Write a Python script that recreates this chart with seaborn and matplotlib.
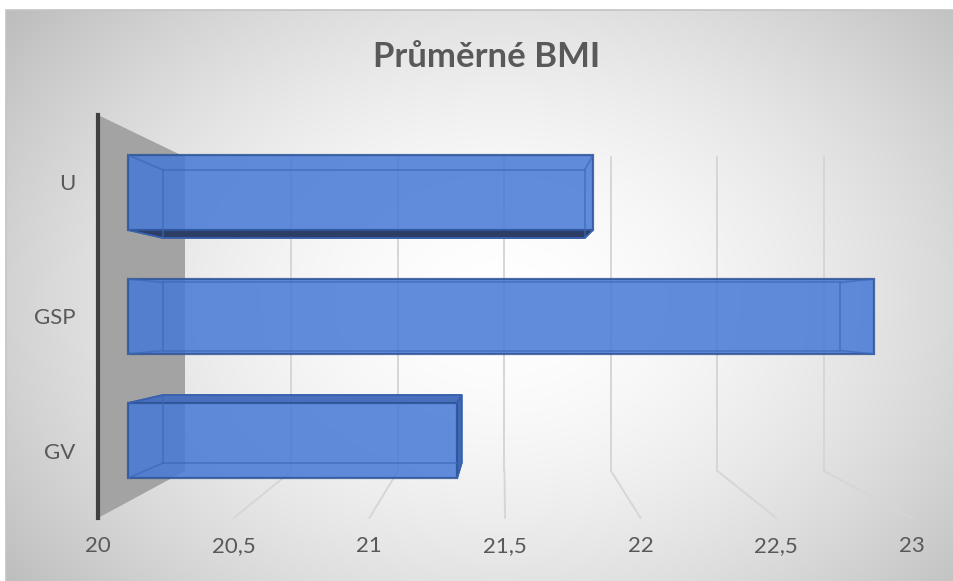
import numpy as np
import pandas as pd
import matplotlib
matplotlib.use("Agg")
import matplotlib.pyplot as plt
import seaborn as sns
from matplotlib.patches import Polygon

# ---------------- data ----------------
categories = ["U", "GSP", "GV"]
bmi_values = [21.85, 22.97, 21.31]
tick_values = [20, 20.5, 21, 21.5, 22, 22.5, 23]
tick_labels = ["20", "20,5", "21", "21,5", "22", "22,5", "23"]
title_text = "Průměrné BMI"

# ---------------- layout constants (pixels) ----------------
W, H = 954, 581
VP_X, VP_Y = 505, 316.5            # vanishing point
FRONT_L, FRONT_R, FRONT_T, FRONT_B = 98, 912, 115, 518
BACK_L, BACK_R, BACK_T, BACK_B = 185, 824, 157, 471
BAR_L, BAR_R, BAR_T, BAR_B = 128, 882, 130.5, 502.5
DEPTH_K = 0.907                    # scale of bar back face towards VP

sns.set_theme(style="white")
plt.rcParams['font.family'] = ['Lato', 'DejaVu Sans']

fig = plt.figure(figsize=(W / 100, H / 100), dpi=100)
fig.patch.set_facecolor('white')


def rect(l, t, r, b):
    return [l / W, 1 - b / H, (r - l) / W, (b - t) / H]


# ---------------- background axes ----------------
ax_bg = fig.add_axes([0, 0, 1, 1], zorder=0)
yy, xx = np.mgrid[10:H, 6:W]
rr = np.sqrt(((xx - 500) / 560.0) ** 2 + ((yy - 300) / 420.0) ** 2)
val = np.clip(255 - 55 * rr ** 1.7, 0, 255) / 255.0
img = np.dstack([val, val, val])
ax_bg.imshow(img, extent=(6, W, H, 10), origin='upper', aspect='auto',
             interpolation='bilinear', zorder=0)
ax_bg.set_xlim(0, W)
ax_bg.set_ylim(H, 0)
ax_bg.axis('off')
ax_bg.plot([6, 6, W], [H, 10, 10], color='#c4c4c4', lw=1.2, zorder=1)

v0, v1 = tick_values[0], tick_values[-1]


def x_front(v):
    return FRONT_L + (v - v0) / (v1 - v0) * (FRONT_R - FRONT_L)


def x_back(v):
    return BACK_L + (v - v0) / (v1 - v0) * (BACK_R - BACK_L)


# side wall
ax_bg.add_patch(Polygon([(FRONT_L, FRONT_T), (BACK_L, BACK_T), (BACK_L, BACK_B),
                         (FRONT_L, FRONT_B)], closed=True, facecolor='#a3a3a3',
                        edgecolor='none', zorder=2))
# perspective grid
for v in tick_values[1:]:
    ax_bg.plot([x_back(v), x_back(v)], [BACK_T, BACK_B], color='#d6d6d6', lw=1.4, zorder=1.5)
    ax_bg.plot([x_back(v), x_front(v)], [BACK_B, FRONT_B], color='#d6d6d6', lw=1.4, zorder=1.5)

# ---------------- front plane axes (labels) ----------------
ax_t = fig.add_axes(rect(FRONT_L, FRONT_T, FRONT_R, FRONT_B), zorder=1)
ax_t.set_facecolor('none')
ax_t.set_xlim(v0, v1)
ax_t.set_ylim(len(categories) - 0.5, -0.5)
ax_t.set_xticks(tick_values, labels=tick_labels)
ax_t.set_yticks(range(len(categories)), labels=categories)
for s in ['top', 'right', 'bottom']:
    ax_t.spines[s].set_visible(False)
ax_t.spines['left'].set_color('#404040')
ax_t.spines['left'].set_linewidth(3)
ax_t.tick_params(axis='x', length=0, pad=13, labelsize=16, labelcolor='#595959')
ax_t.tick_params(axis='y', length=0, pad=16, labelsize=16, labelcolor='#595959')
ax_t.grid(False)

# ---------------- bars axes ----------------
ax = fig.add_axes(rect(BAR_L, BAR_T, BAR_R, BAR_B), zorder=2)
ax.set_facecolor('none')
df = pd.DataFrame({"kat": categories, "bmi": bmi_values})
sns.barplot(data=df, x="bmi", y="kat", orient='h', ax=ax, color='#4678d6',
            saturation=1, width=0.605, errorbar=None, alpha=0.85,
            edgecolor='#2f5597', linewidth=1.6)
ax.set_xlim(v0, v1)
ax.set_ylim(len(categories) - 0.5, -0.5)
ax.axis('off')

vx = v0 + (VP_X - BAR_L) / (BAR_R - BAR_L) * (v1 - v0)
vy = -0.5 + (VP_Y - BAR_T) / (BAR_B - BAR_T) * len(categories)


def back(x, y):
    return (vx + (x - vx) * DEPTH_K, vy + (y - vy) * DEPTH_K)


for p in ax.patches:
    right = p.get_x() + p.get_width()
    p.set_x(v0)
    p.set_width(right - v0)
    p.set_zorder(2)
    p.set_clip_on(False)
    x0, x1 = v0, right
    y0, y1 = p.get_y(), p.get_y() + p.get_height()
    faces = []
    if y1 < vy:
        faces.append(([(x0, y1), (x1, y1), back(x1, y1), back(x0, y1)], '#2c3e66'))
    if y0 > vy:
        faces.append(([(x0, y0), (x1, y0), back(x1, y0), back(x0, y0)], '#4870bd'))
    if x1 < vx:
        faces.append(([(x1, y0), (x1, y1), back(x1, y1), back(x1, y0)], '#4069b8'))
    for pts, col in faces:
        ax.add_patch(Polygon(pts, closed=True, facecolor=col, edgecolor='#2f5597',
                             lw=1.2, zorder=1.5, clip_on=False))
    corners = [(x0, y0), (x1, y0), (x1, y1), (x0, y1)]
    bc = [back(*c) for c in corners]
    ax.plot([c[0] for c in bc + bc[:1]], [c[1] for c in bc + bc[:1]],
            color='#3d68b8', lw=1.2, alpha=0.7, zorder=2.5, clip_on=False)
    for c, b in zip(corners, bc):
        ax.plot([c[0], b[0]], [c[1], b[1]], color='#3d68b8', lw=1.2, alpha=0.7,
                zorder=2.5, clip_on=False)

fig.text(487 / W, 1 - 57 / H, title_text, ha='center', va='center', fontsize=25,
         fontweight='bold', color='#595959')

fig.savefig('out.png', dpi=100)
